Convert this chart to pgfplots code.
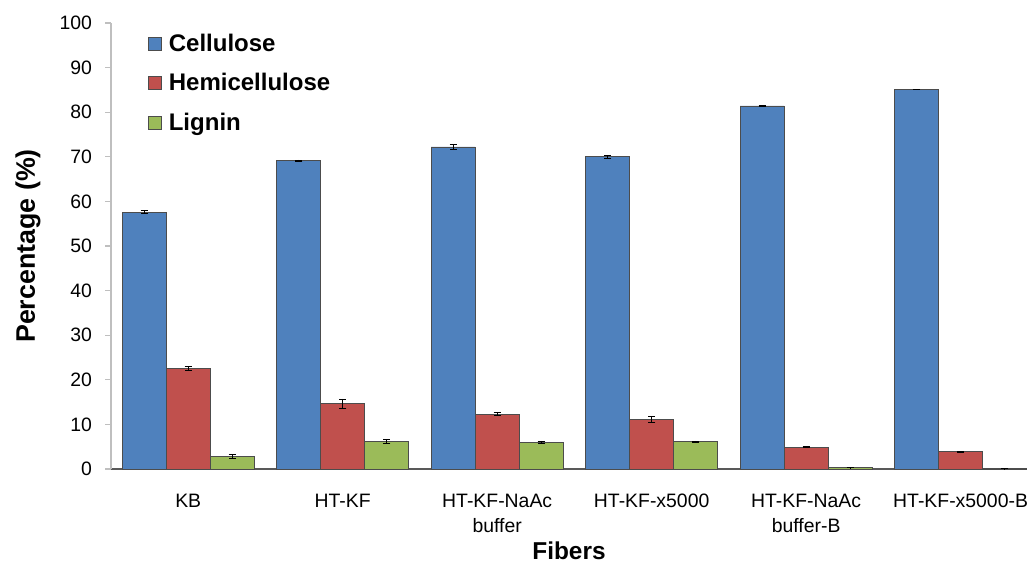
\documentclass[border=0pt]{standalone}
\usepackage{pgfplots}
\pgfplotsset{compat=1.18}
\usepackage{fontspec}
\setmainfont{Liberation Sans}
\definecolor{cellblue}{HTML}{4F81BD}
\definecolor{hemired}{HTML}{C0504D}
\definecolor{ligngreen}{HTML}{9BBB59}
\definecolor{axisgray}{HTML}{BFBFBF}
\begin{document}
\begin{tikzpicture}
\begin{axis}[
  name=main,
  scale only axis,
  width=458pt, height=223pt,
  ybar=0pt, bar width=22pt,
  xmin=-0.5, xmax=5.43,
  ymin=0, ymax=100,
  ytick={0,10,...,100},
  xtick={0,1,2,3,4,5},
  xticklabels={KB, HT-KF, {HT-KF-NaAc\\buffer}, HT-KF-x5000, {HT-KF-NaAc\\buffer-B}, HT-KF-x5000-B},
  xticklabel style={align=center, font=\fontsize{9.7}{12.5}\selectfont, yshift=-6pt},
  yticklabel style={font=\fontsize{9.7}{10}\selectfont, xshift=-3pt},
  /pgf/number format/assume math mode=true,
  axis x line=bottom, axis y line=left,
  axis line style={axisgray, line width=0.8pt, -},
  x axis line style={draw=gray!70!black},
  major tick length=3pt,
  xtick style={draw=none},
  ytick style={axisgray, line width=0.6pt},
  tick align=outside,
  ylabel={\textbf{Percentage (\%)}},
  ylabel style={at={(rel axis cs:0,0.5)}, anchor=center, yshift=41.5pt, font=\fontsize{13.4}{14}\selectfont},
  xlabel={\textbf{Fibers}},
  xlabel style={at={(rel axis cs:0.5,0)}, anchor=center, yshift=-41pt, font=\fontsize{12.2}{13}\selectfont},
  legend style={at={(rel axis cs:0.04,0.985)}, anchor=north west, draw=none, fill=none,
    font=\fontsize{12}{12}\bfseries, row sep=5.5pt, inner sep=0pt,
    nodes={inner xsep=3.5pt}},
  legend image code/.code={\draw[#1, draw=gray!60!black, line width=0.4pt] (0pt,-3pt) rectangle (6.5pt,3.5pt);},
  legend cell align=left,
  every axis plot/.append style={draw=gray!60!black, line width=0.4pt},
  error bars/error bar style={black, line width=0.4pt},
  error bars/error mark options={rotate=90, mark size=1.8pt, black, line width=0.4pt},
]
% Cellulose
\addplot[fill=cellblue, error bars/.cd, y dir=both, y explicit] coordinates {
  (0,57.6) +- (0,0.3)
  (1,69.1) +- (0,0.2)
  (2,72.2) +- (0,0.5)
  (3,70.0) +- (0,0.3)
  (4,81.4) +- (0,0.15)
  (5,85.1) +- (0,0.05)
};
% Hemicellulose
\addplot[fill=hemired, error bars/.cd, y dir=both, y explicit] coordinates {
  (0,22.6) +- (0,0.4)
  (1,14.6) +- (0,1.1)
  (2,12.3) +- (0,0.3)
  (3,11.1) +- (0,0.6)
  (4,4.9) +- (0,0.1)
  (5,3.9) +- (0,0.1)
};
% Lignin
\addplot[fill=ligngreen, error bars/.cd, y dir=both, y explicit] coordinates {
  (0,2.8) +- (0,0.5)
  (1,6.2) +- (0,0.5)
  (2,6.0) +- (0,0.3)
  (3,6.1) +- (0,0.2)
  (4,0.3) +- (0,0.05)
  (5,0.1) +- (0,0.02)
};
\legend{Cellulose, Hemicellulose, Lignin}
\end{axis}
\pgfresetboundingbox
\path ([shift={(-55.5pt,-47pt)}]main.south west) rectangle ([shift={(1pt,11.5pt)}]main.north east);
\end{tikzpicture}
\end{document}
